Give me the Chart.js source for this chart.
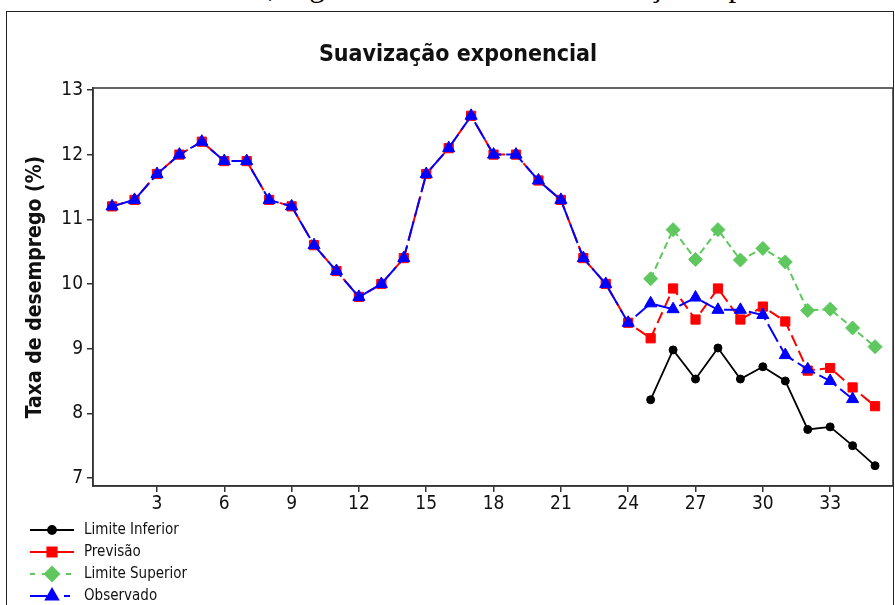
<!DOCTYPE html>
<html>
<head>
<meta charset="utf-8">
<script src="https://cdn.jsdelivr.net/npm/chart.js@4"></script>
<style>
  html, body { margin: 0; padding: 0; background: #fff; overflow: hidden; }
  #wrap { position: relative; width: 895px; height: 605px; overflow: hidden; }
  #caption {
    position: absolute; right: 46px; top: -30px; white-space: nowrap;
    font-family: "Liberation Serif", serif; font-size: 31px; line-height: 31px; color: #000;
  }
  #frame {
    position: absolute; left: 6px; top: 11px; width: 886px; height: 700px;
    border: 1.5px solid #222;
  }
  #chart { position: absolute; left: 0; top: 0; }
</style>
</head>
<body>
<div id="wrap">
  <div id="caption">trimestre de 2016, segundo o modelo de suavização exponencial</div>
  <div id="frame"></div>
  <canvas id="chart" width="895" height="605"></canvas>
</div>
<script>
const periods = [1, 2, 3, 4, 5, 6, 7, 8, 9, 10, 11, 12, 13, 14, 15, 16, 17, 18,
  19, 20, 21, 22, 23, 24, 25, 26, 27, 28, 29, 30, 31, 32, 33, 34, 35];

const observado = [11.2, 11.3, 11.7, 12.0, 12.2, 11.9, 11.9, 11.3, 11.2, 10.6, 10.2, 9.8,
  10.0, 10.4, 11.7, 12.1, 12.6, 12.0, 12.0, 11.6, 11.3, 10.4, 10.0, 9.4,
  9.70, 9.61, 9.79, 9.60, 9.60, 9.52, 8.90, 8.68, 8.50, 8.22, null];

const previsao = [11.2, 11.3, 11.7, 12.0, 12.2, 11.9, 11.9, 11.3, 11.2, 10.6, 10.2, 9.8,
  10.0, 10.4, 11.7, 12.1, 12.6, 12.0, 12.0, 11.6, 11.3, 10.4, 10.0, 9.4,
  9.16, 9.93, 9.45, 9.93, 9.45, 9.65, 9.42, 8.66, 8.70, 8.40, 8.11];

const limiteSuperior = [null, null, null, null, null, null, null, null, null, null, null, null,
  null, null, null, null, null, null, null, null, null, null, null, null,
  10.08, 10.84, 10.38, 10.84, 10.37, 10.55, 10.34, 9.59, 9.61, 9.32, 9.03];

const limiteInferior = [null, null, null, null, null, null, null, null, null, null, null, null,
  null, null, null, null, null, null, null, null, null, null, null, null,
  8.21, 8.98, 8.53, 9.01, 8.53, 8.72, 8.50, 7.75, 7.79, 7.50, 7.19];

const xTicks = [3, 6, 9, 12, 15, 18, 21, 24, 27, 30, 33];
const yTicks = [7, 8, 9, 10, 11, 12, 13];

const FONT = '"DejaVu Sans Condensed", "DejaVu Sans", sans-serif';

function toPoints(values) {
  return periods.map((p, i) => ({ x: p, y: values[i] }));
}

// box around the plot area + legend (line with marker, like minitab)
const boxAndLegend = {
  id: 'boxAndLegend',
  afterDatasetsDraw(chart) {
    const { ctx, chartArea } = chart;
    ctx.save();
    ctx.strokeStyle = '#333';
    ctx.lineWidth = 1.5;
    ctx.strokeRect(chartArea.left, chartArea.top, chartArea.right - chartArea.left, chartArea.bottom - chartArea.top);
    ctx.restore();
  },
  afterDraw(chart) {
    const { ctx } = chart;
    const rows = [530, 552, 574, 596];
    chart.data.datasets.forEach((ds) => {
      const y = rows[ds.legendRow];
      ctx.save();
      ctx.strokeStyle = ds.borderColor;
      ctx.fillStyle = ds.backgroundColor;
      ctx.lineWidth = ds.borderWidth;
      ctx.setLineDash(ds.legendDash);
      ctx.beginPath();
      ctx.moveTo(30, y);
      ctx.lineTo(74, y);
      ctx.stroke();
      ctx.setLineDash([]);
      Chart.helpers.drawPoint(ctx, {
        pointStyle: ds.pointStyle, radius: ds.pointRadius, rotation: 0, borderWidth: 1
      }, 52, y);
      ctx.fillStyle = '#111';
      ctx.font = '15px ' + FONT;
      ctx.textBaseline = 'middle';
      ctx.fillText(ds.label, 84, y);
      ctx.restore();
    });
  }
};

const ctx = document.getElementById('chart').getContext('2d');

const chart = new Chart(ctx, {
  type: 'line',
  data: {
    datasets: [
      {
        label: 'Observado', legendRow: 3, order: 0,
        data: toPoints(observado),
        borderColor: '#0000ff', backgroundColor: '#0000ff', borderWidth: 2,
        borderDash: [20, 5], legendDash: [17, 17, 6, 10],
        pointStyle: 'triangle', pointRadius: 7, pointBorderWidth: 1
      },
      {
        label: 'Previsão', legendRow: 1, order: 1,
        data: toPoints(previsao),
        borderColor: '#ff0000', backgroundColor: '#ff0000', borderWidth: 2,
        borderDash: [12, 5], legendDash: [],
        pointStyle: 'rect', pointRadius: 6.5, pointBorderWidth: 1
      },
      {
        label: 'Limite Superior', legendRow: 2, order: 2,
        data: toPoints(limiteSuperior),
        borderColor: '#5ec85e', backgroundColor: '#5ec85e', borderWidth: 2,
        borderDash: [7, 4], legendDash: [5, 7],
        pointStyle: 'rectRot', pointRadius: 7, pointBorderWidth: 1
      },
      {
        label: 'Limite Inferior', legendRow: 0, order: 3,
        data: toPoints(limiteInferior),
        borderColor: '#000000', backgroundColor: '#000000', borderWidth: 1.8,
        borderDash: [], legendDash: [],
        pointStyle: 'circle', pointRadius: 4, pointBorderWidth: 1
      }
    ]
  },
  options: {
    responsive: false,
    animation: false,
    spanGaps: false,
    layout: { autoPadding: false, padding: { left: 23, top: 0, right: 2, bottom: 89 } },
    plugins: {
      legend: { display: false },
      tooltip: { enabled: false },
      title: {
        display: true,
        text: 'Suavização exponencial',
        color: '#111',
        font: { family: FONT, size: 23, weight: 'bold' },
        padding: { top: 41, bottom: 19.4 }
      }
    },
    scales: {
      x: {
        type: 'linear',
        min: 0.15,
        max: 35.8,
        afterFit: (s) => { s.height = 30; s.paddingLeft = 0; s.paddingRight = 0; },
        afterBuildTicks: (s) => { s.ticks = xTicks.map((v) => ({ value: v })); },
        grid: { display: true, drawOnChartArea: false, drawTicks: true, tickLength: 6, color: '#333', lineWidth: 1.5 },
        border: { display: true, color: '#333', width: 1.5 },
        ticks: { color: '#111', padding: 1, font: { family: FONT, size: 19 }, maxRotation: 0 }
      },
      y: {
        type: 'linear',
        min: 6.876,
        max: 13.03,
        afterFit: (s) => { s.width = 70; s.paddingTop = 0; s.paddingBottom = 0; },
        afterBuildTicks: (s) => { s.ticks = yTicks.map((v) => ({ value: v })); },
        grid: { display: true, drawOnChartArea: false, drawTicks: true, tickLength: 6, color: '#333', lineWidth: 1.5 },
        border: { display: true, color: '#333', width: 1.5 },
        title: {
          display: true,
          text: 'Taxa de desemprego (%)',
          color: '#111',
          font: { family: FONT, size: 21, weight: 'bold' },
          padding: { top: 0, bottom: 0 }
        },
        ticks: { color: '#111', padding: 4, font: { family: FONT, size: 19 } }
      }
    }
  },
  plugins: [boxAndLegend]
});
</script>
</body>
</html>
